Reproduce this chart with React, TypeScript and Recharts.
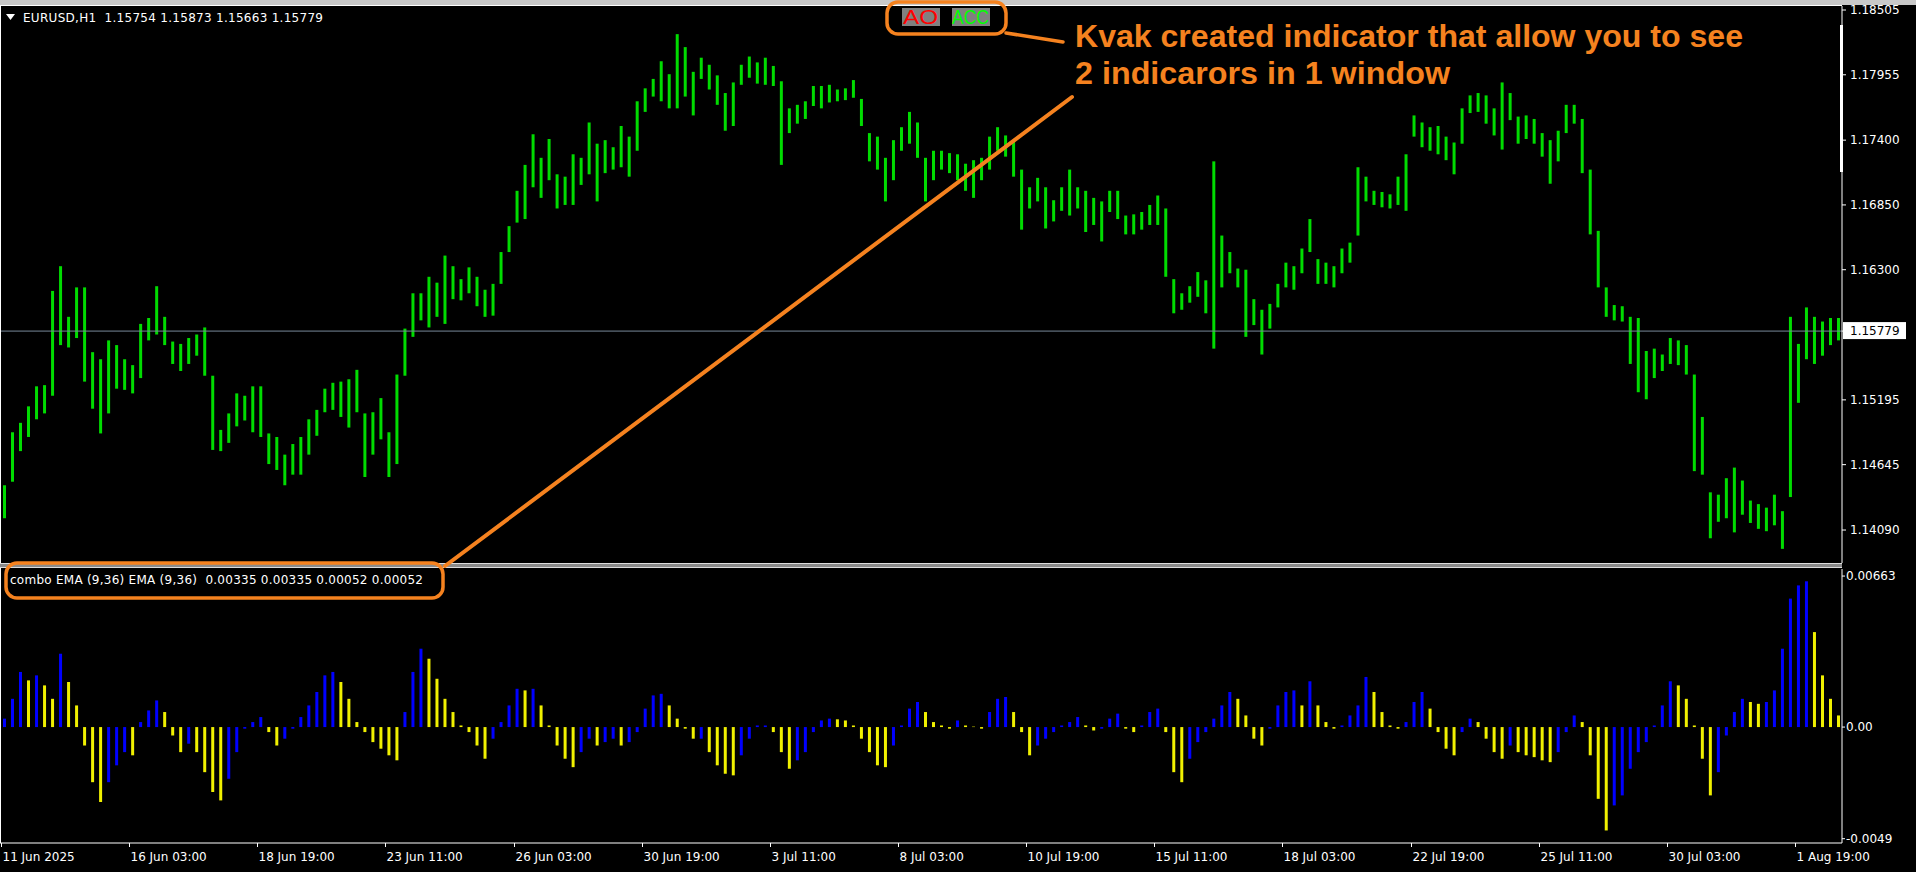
import React from "react";
import { ComposedChart, Bar, XAxis, YAxis, Cell, ReferenceLine } from "recharts";

// EURUSD H1 — each entry covers 4 hourly bars (high / low of that group)
const HIGH = [
  1.1447, 1.1492, 1.15, 1.1514, 1.1531, 1.1532, 1.1612, 1.1633, 1.159, 1.1615,
  1.1615, 1.156, 1.1554, 1.157, 1.1566, 1.1554, 1.1549, 1.1584, 1.1589, 1.1616,
  1.159, 1.1569, 1.1567, 1.1572, 1.1575, 1.1581, 1.154, 1.1494, 1.1508, 1.1525,
  1.1523, 1.1531, 1.1531, 1.1491, 1.1488, 1.1473, 1.1482, 1.1488, 1.1503, 1.1511,
  1.1529, 1.1534, 1.1535, 1.1537, 1.1545, 1.1508, 1.1509, 1.1521, 1.1492, 1.1541,
  1.158, 1.161, 1.161, 1.1624, 1.1619, 1.1642, 1.1633, 1.1622, 1.1632, 1.1624,
  1.1613, 1.1618, 1.1645, 1.1667, 1.1697, 1.1719, 1.1745, 1.1725, 1.1741, 1.1711,
  1.1709, 1.1728, 1.1725, 1.1755, 1.1737, 1.174, 1.1734, 1.1752, 1.1743, 1.1773,
  1.1784, 1.1792, 1.1807, 1.1796, 1.183, 1.1819, 1.1798, 1.181, 1.1804, 1.1795,
  1.178, 1.1789, 1.1804, 1.1811, 1.1806, 1.181, 1.1803, 1.179, 1.1767, 1.177,
  1.1773, 1.1786, 1.1786, 1.1787, 1.1783, 1.1784, 1.1791, 1.1775, 1.1746, 1.1743,
  1.1725, 1.174, 1.1751, 1.1764, 1.1755,
  1.1725, 1.1731, 1.1731, 1.1729, 1.1728, 1.172, 1.1723, 1.1725, 1.1743, 1.1751,
  1.1744, 1.174, 1.1715, 1.17, 1.1708, 1.17, 1.1689, 1.17, 1.1715, 1.17,
  1.1697, 1.1691, 1.1688, 1.1697, 1.1697, 1.1676, 1.1677, 1.1679, 1.1685, 1.1693,
  1.1682, 1.1622, 1.161, 1.1616, 1.1628, 1.1621, 1.1722, 1.1659, 1.1645, 1.1631,
  1.163, 1.1605, 1.1596, 1.1601, 1.1618, 1.1636, 1.1633, 1.1648, 1.1673, 1.1639,
  1.1636, 1.1633, 1.1648, 1.1653, 1.1717, 1.1709, 1.1697, 1.1696, 1.1694, 1.1709,
  1.1728, 1.1761, 1.1755, 1.1751, 1.1752, 1.1743, 1.1738, 1.1767, 1.1778, 1.178,
  1.1778, 1.1767, 1.1789, 1.178, 1.176, 1.1761, 1.1758, 1.1746, 1.174, 1.1748,
  1.177, 1.177, 1.1758, 1.1715, 1.1663, 1.1615, 1.16, 1.1599, 1.159, 1.1589,
  1.1561, 1.1563, 1.1558, 1.1572, 1.157, 1.1566, 1.1541, 1.1505, 1.1441, 1.1439,
  1.1453, 1.1462, 1.1451, 1.1434, 1.1431, 1.1428, 1.1439, 1.1425, 1.159, 1.1567,
  1.1598, 1.159, 1.1586, 1.1589, 1.1589,
];

const LOW = [
  1.1419, 1.145, 1.1476, 1.1488, 1.1503, 1.1508, 1.1523, 1.1566, 1.1564, 1.1572,
  1.1535, 1.1512, 1.1491, 1.1508, 1.1529, 1.1528, 1.1525, 1.1538, 1.157, 1.1575,
  1.1566, 1.155, 1.1544, 1.155, 1.1557, 1.154, 1.1477, 1.1476, 1.1483, 1.1497,
  1.1502, 1.1492, 1.1488, 1.1465, 1.146, 1.1447, 1.1456, 1.1456, 1.1473, 1.1489,
  1.1509, 1.1511, 1.1505, 1.1496, 1.1509, 1.1454, 1.1473, 1.1486, 1.1454, 1.1465,
  1.154, 1.1573, 1.1587, 1.1581, 1.159, 1.1584, 1.1605, 1.1604, 1.161, 1.1599,
  1.159, 1.1591, 1.1618, 1.1645, 1.167, 1.1673, 1.17, 1.1691, 1.1706, 1.1682,
  1.1685, 1.1685, 1.1702, 1.1711, 1.1688, 1.1712, 1.1715, 1.1717, 1.1709, 1.1731,
  1.1764, 1.1777, 1.1773, 1.1767, 1.1767, 1.1777, 1.1761, 1.1792, 1.1783, 1.177,
  1.1748, 1.1752, 1.1787, 1.1793, 1.1788, 1.1787, 1.1786, 1.1719, 1.1746, 1.1754,
  1.1758, 1.1769, 1.1767, 1.1772, 1.1773, 1.1774, 1.1776, 1.1752, 1.1722, 1.1715,
  1.1688, 1.1706, 1.1731, 1.1737, 1.1725,
  1.1688, 1.1706, 1.1715, 1.1712, 1.1706, 1.1697, 1.1691, 1.1706, 1.1715, 1.1731,
  1.1726, 1.1709, 1.1664, 1.1682, 1.1688, 1.1665, 1.1671, 1.168, 1.1676, 1.1682,
  1.1662, 1.1668, 1.1654, 1.1679, 1.1673, 1.166, 1.166, 1.1664, 1.1668, 1.1668,
  1.1624, 1.1593, 1.1596, 1.1602, 1.1607, 1.1593, 1.1563, 1.1615, 1.1627, 1.1615,
  1.1573, 1.1583, 1.1558, 1.158, 1.1598, 1.1615, 1.1613, 1.1627, 1.1645, 1.1618,
  1.1618, 1.1615, 1.1627, 1.1636, 1.1659, 1.1688, 1.1685, 1.1683, 1.1682, 1.1685,
  1.168, 1.1743, 1.1734, 1.1731, 1.1728, 1.1723, 1.1711, 1.1737, 1.1763, 1.1764,
  1.1754, 1.1744, 1.1732, 1.1757, 1.1737, 1.1741, 1.1737, 1.1726, 1.1703, 1.1722,
  1.1746, 1.1754, 1.1712, 1.166, 1.1615, 1.159, 1.1587, 1.1586, 1.155, 1.1526,
  1.152, 1.1538, 1.1544, 1.155, 1.1549, 1.1541, 1.1459, 1.1456, 1.1402, 1.1416,
  1.1419, 1.1407, 1.1422, 1.1415, 1.141, 1.1408, 1.1413, 1.1393, 1.1437, 1.1517,
  1.1554, 1.155, 1.1557, 1.1566, 1.157,
];

// combo oscillator (one value per 4 bars)
const OSC = [
  0.00037, 0.00124, 0.00242, 0.00205, 0.00227, 0.00183, 0.00124, 0.00322, 0.00198, 0.00095,
  -0.00081, -0.00242, -0.00329, -0.00242, -0.00168, -0.0011, -0.00124, 0.00022, 0.00073, 0.00117,
  0.00066, -0.00037, -0.0011, -0.00073, -0.0011, -0.00198, -0.00285, -0.00322, -0.00227, -0.0011,
  -0.00007, 0.00022, 0.00044, -0.00022, -0.00081, -0.00051, -0.00007, 0.00044, 0.00095, 0.00154,
  0.00227, 0.00242, 0.00198, 0.00124, 0.00022, -0.00022, -0.00066, -0.00095, -0.00124, -0.00146,
  0.00066, 0.00242, 0.00344, 0.003, 0.00212, 0.00124, 0.00066, 0.00007, -0.00022, -0.00081,
  -0.00139, -0.00051, 0.00022, 0.00095, 0.00168, 0.00161, 0.00168, 0.00095, 0.00007, -0.00081,
  -0.00139, -0.00176, -0.0011, -0.00051, -0.00081, -0.00066, -0.00051, -0.00081, -0.00066, -0.00022,
  0.00081, 0.00139, 0.00146, 0.00095, 0.00037, -0.00007, -0.00051, -0.00051, -0.0011, -0.00168,
  -0.00205, -0.00212, -0.00124, -0.00051, 0.00007, 0.00007, -0.00022, -0.0011, -0.00183, -0.00146,
  -0.0011, -0.00022, 0.00029, 0.00037, 0.00034, 0.00029, 0.00007, -0.00051, -0.0011, -0.00168,
  -0.00176, -0.00081, 0.00007, 0.00081, 0.0011, 0.00066, 0.00022, 0.00007, -0.00007, 0.00029,
  0.00007, 0.00002, -0.00007, 0.00066, 0.00124, 0.00132, 0.00066, -0.00022, -0.00124, -0.00081,
  -0.00051, -0.00022, 0.00007, 0.00022, 0.00044, 0.00007, -0.00015, -0.00007, 0.00037, 0.00059,
  -0.00007, -0.00022, 0.00007, 0.00066, 0.00081, -0.00022, -0.00198, -0.00242, -0.00139, -0.00066,
  -0.00022, 0.00037, 0.00095, 0.00154, 0.00124, 0.00051, -0.00051, -0.00081, -0.00007, 0.00095,
  0.00154, 0.00161, 0.00095, 0.00201, 0.00095, 0.00022, -0.00007, 0.00007, 0.00051, 0.00095,
  0.0022, 0.00154, 0.00066, 0.00007, -0.00007, 0.00022, 0.0011, 0.00154, 0.00081, -0.00022,
  -0.00095, -0.00124, -0.00022, 0.00037, 0.00022, -0.00051, -0.0011, -0.00139, -0.00081, -0.0011,
  -0.00124, -0.00132, -0.00146, -0.00154, -0.0011, -0.00022, 0.00051, 0.00022, -0.00124, -0.00315,
  -0.00454, -0.00344, -0.003, -0.00183, -0.0011, -0.00066, 0.00007, 0.00095, 0.00201, 0.00183,
  0.00124, 0.00007, -0.00139, -0.003, -0.00198, -0.00037, 0.00066, 0.00124, 0.0011, 0.00102,
  0.0011, 0.00161, 0.00344, 0.00564, 0.00622, 0.0064, 0.00417, 0.00227, 0.00124, 0.00051,
];

const PRICE_TICKS = [1.18505, 1.17955, 1.174, 1.1685, 1.163, 1.15779, 1.15195, 1.14645, 1.1409];
const LAST_PRICE = 1.15779;
const PRICE_DOMAIN = [1.1381, 1.18539];

const OSC_TICKS = [0.00663, 0, -0.0049];
const OSC_TICK_LABELS = ["0.00663", "0.00", "-0.0049"];
const OSC_DOMAIN = [-0.00509, 0.00694];

const TIME_TICK_INDEX = [0, 16, 32, 48, 64, 80, 96, 112, 128, 144, 160, 176, 192, 208, 224];
const TIME_LABELS = [
  "11 Jun 2025", "16 Jun 03:00", "18 Jun 19:00", "23 Jun 11:00", "26 Jun 03:00",
  "30 Jun 19:00", "3 Jul 11:00", "8 Jul 03:00", "10 Jul 19:00", "15 Jul 11:00",
  "18 Jul 03:00", "22 Jul 19:00", "25 Jul 11:00", "30 Jul 03:00", "1 Aug 19:00",
];

const HEADER = "EURUSD,H1  1.15754 1.15873 1.15663 1.15779";
const LEGEND = "combo EMA (9,36) EMA (9,36)  0.00335 0.00335 0.00052 0.00052";
const NOTE_1 = "Kvak created indicator that allow you to see";
const NOTE_2 = "2 indicarors in 1 window";

const FONT = "'DejaVu Sans', Verdana, sans-serif";
const ORANGE = "#f5821f";
const BAR_GREEN = "#00dc00";
const UP_BLUE = "#0000ff";
const DOWN_YELLOW = "#f0f000";

const priceData = HIGH.map((h, i) => ({ i, range: [LOW[i], h] }));
const oscData = OSC.map((v, i) => ({ i, v, up: i === 0 || v >= OSC[i - 1] }));

const PriceTick = (props: any) => {
  const { x, y, payload } = props;
  const v = payload.value as number;
  const label = v.toFixed(5);
  if (Math.abs(v - LAST_PRICE) < 1e-9) {
    return (
      <g>
        <rect x={x - 7} y={y - 9} width={63} height={17} fill="#ffffff" />
        <text x={x} y={y} dy="0.36em" fill="#000" fontSize={12} fontFamily={FONT}>{label}</text>
      </g>
    );
  }
  return (
    <text x={x} y={y} dy="0.36em" fill="#ffffff" fontSize={12} fontFamily={FONT}>{label}</text>
  );
};

const OscTick = (props: any) => {
  const { x, y, payload } = props;
  const idx = OSC_TICKS.indexOf(payload.value);
  return (
    <text x={x} y={y} dy="0.36em" fill="#ffffff" fontSize={12} fontFamily={FONT}>
      {idx >= 0 ? OSC_TICK_LABELS[idx] : ""}
    </text>
  );
};

const TimeTick = (props: any) => {
  const { x, y, payload } = props;
  const idx = TIME_TICK_INDEX.indexOf(payload.value);
  const lx = Math.round(x - 3) + 0.5;
  return (
    <g>
      <line x1={lx} x2={lx} y1={y - 4} y2={y} stroke="#ffffff" />
      <text x={lx + 1} y={y + 14} fill="#ffffff" fontSize={12} fontFamily={FONT}>
        {idx >= 0 ? TIME_LABELS[idx] : ""}
      </text>
    </g>
  );
};

export default function App() {
  return (
    <div style={{ position: "absolute", left: 0, top: 0, width: 1916, height: 872, background: "#000", overflow: "hidden" }}>
      <div style={{ position: "absolute", left: 0, top: 0 }}>
        <ComposedChart width={1916} height={565} data={priceData} margin={{ top: 6, right: 0, bottom: 2, left: 0 }} barCategoryGap={0}>
          <XAxis dataKey="i" hide />
          <YAxis
            orientation="right"
            width={74}
            domain={PRICE_DOMAIN}
            allowDataOverflow
            ticks={PRICE_TICKS}
            interval={0}
            axisLine={{ stroke: "#ffffff" }}
            tickLine={{ stroke: "#ffffff" }}
            tickSize={4}
            tickMargin={4}
            tick={<PriceTick />}
          />
          <ReferenceLine y={LAST_PRICE} stroke="#778899" strokeWidth={1} ifOverflow="hidden" />
          <Bar dataKey="range" fill={BAR_GREEN} barSize={3} isAnimationActive={false} />
        </ComposedChart>
      </div>
      <div style={{ position: "absolute", left: 0, top: 563 }}>
        <ComposedChart width={1916} height={309} data={oscData} margin={{ top: 6, right: 0, bottom: 0, left: 0 }} barCategoryGap={0}>
          <XAxis
            dataKey="i"
            ticks={TIME_TICK_INDEX}
            interval={0}
            height={29}
            axisLine={{ stroke: "#ffffff" }}
            tickLine={false}
            tickSize={4}
            tickMargin={0}
            tick={<TimeTick />}
          />
          <YAxis
            orientation="right"
            width={74}
            domain={OSC_DOMAIN}
            allowDataOverflow
            ticks={OSC_TICKS}
            interval={0}
            axisLine={{ stroke: "#ffffff" }}
            tickLine={{ stroke: "#ffffff" }}
            tickSize={3}
            tickMargin={1}
            tick={<OscTick />}
          />
          <Bar dataKey="v" barSize={3} isAnimationActive={false}>
            {oscData.map((d) => (
              <Cell key={d.i} fill={d.up ? UP_BLUE : DOWN_YELLOW} />
            ))}
          </Bar>
        </ComposedChart>
      </div>
      <svg width={1916} height={872} style={{ position: "absolute", left: 0, top: 0, pointerEvents: "none" }}>
        {/* window chrome and frames */}
        <rect x={0} y={0} width={1916} height={5} fill="#c8c8c8" />
        <line x1={0} x2={1842} y1={5.5} y2={5.5} stroke="#ffffff" />
        <line x1={0.5} x2={0.5} y1={6} y2={843} stroke="#ffffff" />
        <rect x={0} y={563} width={1842} height={5} fill="#8a8a8a" />
        <line x1={0} x2={1842} y1={563.5} y2={563.5} stroke="#dcdcdc" />
        <line x1={0} x2={1842} y1={567.5} y2={567.5} stroke="#dcdcdc" />
        <rect x={1840} y={25} width={3} height={147} fill="#ffffff" />

        {/* header */}
        <polygon points="6,14 15,14 10.5,20" fill="#ffffff" />
        <text x={23} y={22} fill="#ffffff" fontSize={12} fontFamily={FONT} style={{ whiteSpace: "pre" }} textLength={300} lengthAdjust="spacing">{HEADER}</text>

        {/* indicator buttons */}
        <rect x={902} y={8} width={38} height={18} fill="#808080" />
        <text x={903} y={24} fill="#ff0000" fontSize={20} fontFamily="'Liberation Sans', Arial, sans-serif" textLength={35} lengthAdjust="spacingAndGlyphs">AO</text>
        <rect x={952} y={8} width={38} height={18} fill="#808080" />
        <text x={952} y={24} fill="#00ff00" fontSize={20} fontFamily="'Liberation Sans', Arial, sans-serif" textLength={37} lengthAdjust="spacingAndGlyphs">ACC</text>

        {/* lower pane legend */}
        <text x={10} y={584} fill="#ffffff" fontSize={12} fontFamily={FONT} style={{ whiteSpace: "pre" }} textLength={413} lengthAdjust="spacing">{LEGEND}</text>

        {/* annotations */}
        <rect x={887} y={2} width={119} height={32} rx={11} fill="none" stroke={ORANGE} strokeWidth={3.5} />
        <line x1={1006} y1={33} x2={1063} y2={42} stroke={ORANGE} strokeWidth={3.5} strokeLinecap="round" />
        <rect x={6} y={563} width={437} height={35} rx={11} fill="none" stroke={ORANGE} strokeWidth={3.5} />
        <line x1={445} y1={566} x2={1072} y2={97} stroke={ORANGE} strokeWidth={4} strokeLinecap="round" />
        <text x={1075} y={47} fill={ORANGE} fontSize={32} fontWeight="bold" fontFamily="'Liberation Sans Narrow', 'Liberation Sans', Arial, sans-serif" textLength={668} lengthAdjust="spacingAndGlyphs">{NOTE_1}</text>
        <text x={1075} y={84} fill={ORANGE} fontSize={32} fontWeight="bold" fontFamily="'Liberation Sans Narrow', 'Liberation Sans', Arial, sans-serif" textLength={375} lengthAdjust="spacingAndGlyphs">{NOTE_2}</text>
      </svg>
    </div>
  );
}
